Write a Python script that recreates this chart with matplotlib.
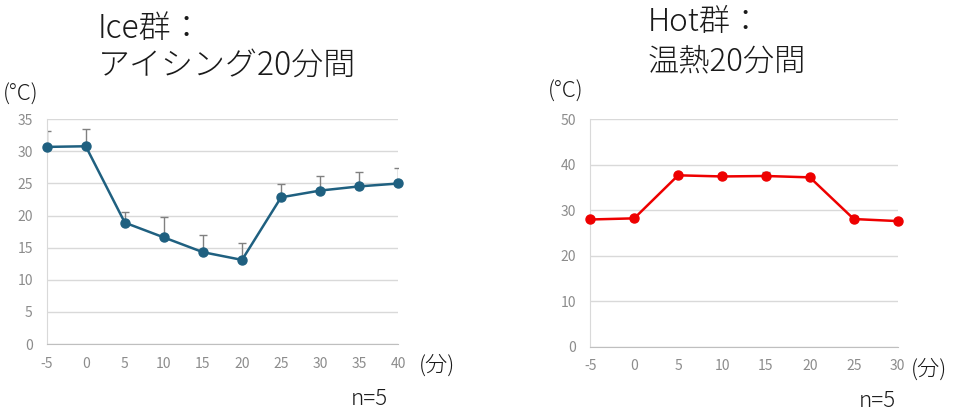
import matplotlib
matplotlib.use("Agg")
import matplotlib.pyplot as plt

plt.rcParams["font.family"] = ["Noto Sans CJK JP", "DejaVu Sans"]
plt.rcParams["axes.unicode_minus"] = False

# Ice group: icing for 20 minutes
ice_time = [-5, 0, 5, 10, 15, 20, 25, 30, 35, 40]
ice_temp = [30.7, 30.8, 18.9, 16.6, 14.3, 13.1, 22.85, 23.9, 24.55, 25.0]
ice_err = [2.55, 2.7, 1.6, 3.15, 2.65, 2.65, 2.0, 2.2, 2.3, 2.4]

# Hot group: heating for 20 minutes
hot_time = [-5, 0, 5, 10, 15, 20, 25, 30]
hot_temp = [28.0, 28.25, 37.7, 37.45, 37.55, 37.25, 28.1, 27.65]
hot_err = [0.2, 0.2, 0.3, 0.5, 0.8, 0.3, 0.6, 0.4]

W, H = 957, 411
GRID = "#d9d9d9"
TICK = "#8c8c8c"
INK = "#1a1a1a"


def style_axes(ax, xlim, ylim, yticks):
    ax.set_xlim(*xlim)
    ax.set_ylim(*ylim)
    ax.set_xticks(range(xlim[0], xlim[1] + 1, 5))
    ax.set_yticks(yticks)
    ax.grid(axis="y", color=GRID, linewidth=1)
    ax.set_axisbelow(True)
    for side in ("top", "right"):
        ax.spines[side].set_visible(False)
    ax.spines["left"].set_color(GRID)
    ax.spines["bottom"].set_color("#bfbfbf")
    ax.tick_params(length=0, colors=TICK, labelsize=10)
    ax.tick_params(axis="x", pad=9)
    ax.tick_params(axis="y", pad=10)


def label(x, y, s, size, va="baseline"):
    fig.text(x / W, 1 - y / H, s, fontsize=size, color=INK,
             fontweight="light", va=va)


fig = plt.figure(figsize=(W / 100, H / 100), dpi=100)

ax1 = fig.add_axes([46.7 / W, 1 - 344 / H, 351.6 / W, 224.7 / H])
style_axes(ax1, (-5, 40), (0, 35), range(0, 36, 5))
ax1.errorbar(ice_time, ice_temp, yerr=[[0] * len(ice_err), ice_err],
             fmt="none", ecolor="#808080", elinewidth=1, capsize=3, capthick=1, zorder=2)
ax1.plot(ice_time, ice_temp, color="#1f6080", linewidth=1.8, marker="o",
         markersize=6.5, clip_on=False, zorder=3)

ax2 = fig.add_axes([590.3 / W, 1 - 347 / H, 307.4 / W, 227.7 / H])
style_axes(ax2, (-5, 30), (0, 50), range(0, 51, 10))
ax2.errorbar(hot_time, hot_temp, yerr=[[0] * len(hot_err), hot_err],
             fmt="none", ecolor="#808080", elinewidth=1, capsize=3, capthick=1, zorder=2)
ax2.plot(hot_time, hot_temp, color="#ee0000", linewidth=1.8, marker="o",
         markersize=6.5, clip_on=False, zorder=3)

# titles and annotations
label(98, 38, "Ice群：", 23)
label(98, 75, "アイシング20分間", 23)
label(648, 31, "Hot群：", 22.5)
label(648, 70, "温熱20分間", 22.5)

label(3, 95, "(°C)", 16, va="center")
label(548, 92, "(°C)", 16, va="center")
label(419, 366, "(分)", 16, va="center")
label(911, 370, "(分)", 16, va="center")
label(351, 405, "n=5", 16)
label(859, 407, "n=5", 16)

fig.savefig("out.png", dpi=100)
